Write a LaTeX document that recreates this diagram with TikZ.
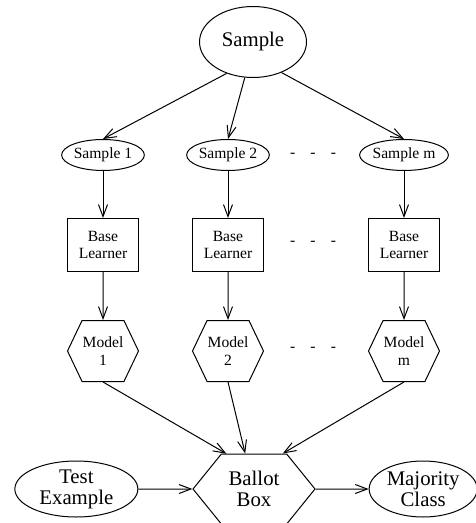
\documentclass[tikz,border=0pt]{standalone}
\usepackage{fontspec}
\setmainfont{Liberation Serif}
\usetikzlibrary{shapes.geometric,shapes.symbols,arrows.meta,positioning}
\tikzset{bagnode/.style={
       draw,
       align=center,
       inner sep=0pt
     },
     bigtext/.style={font=\fontsize{10.4}{10.6}\selectfont},
     smalltext/.style={font=\fontsize{7.8}{8.7}\selectfont},
     sampleset/.style={bagnode, smalltext,
       ellipse,
       minimum width=40pt,
       minimum height=15.5pt
     },
     learner/.style={bagnode, smalltext,
       rectangle,
       minimum width=35.5pt,
       minimum height=26.5pt
     },
     model/.style={bagnode, smalltext,
       signal, signal to=east and west,
       signal pointer angle=129,
       minimum width=35.5pt,
       minimum height=30.5pt
     },
     gap/.style={smalltext, inner sep=0pt}
}

\begin{document}
\begin{tikzpicture}[
    x=0.5pt, y=-0.5pt,
    line width=0.5pt,
    >={Straight Barb[length=6pt,width=4.5pt]},
    node distance=23.5pt and 27pt]
    \useasboundingbox (0,0) rectangle (475,523);

    \node[bagnode, bigtext, ellipse, minimum width=53.5pt, minimum height=35.5pt] (smp) at (253,42) {Sample};

    % bootstrap samples
    \node[sampleset] (s1) at (103,155) {Sample 1};
    \node[sampleset] (s2) at (228,155) {Sample 2};
    \node[sampleset] (sm) at (404,155) {Sample m};
    \node[gap] (dots1) at (313,155) {-\hspace{7.6pt}-\hspace{7.6pt}-};

    \draw[->] (smp.230) -- (s1.north);
    \draw[->] (smp.257) -- (s2.north);
    \draw[->] (smp.313) -- (sm.north);

    % learners
    \node[learner] (b1) [below=of s1] {Base\\Learner} edge [<-] (s1);
    \node[learner] (b2) [below=of s2] {Base\\Learner} edge [<-] (s2);
    \node[learner] (bm) [below=of sm] {Base\\Learner} edge [<-] (sm);
    \node[gap] (dots2) at (313,243) {-\hspace{7.6pt}-\hspace{7.6pt}-};

    % models
    \node[model] (m1) [below=24pt of b1] {Model\\1} edge [<-] (b1);
    \node[model] (m2) [below=24pt of b2] {Model\\2} edge [<-] (b2);
    \node[model] (mm) [below=24pt of bm] {Model\\m} edge [<-] (bm);
    \node[gap] (dots3) at (313,349) {-\hspace{7.6pt}-\hspace{7.6pt}-};

    % voting
    \node[bagnode, bigtext, signal, signal to=east and west, signal pointer angle=102,
          minimum width=61pt, minimum height=35pt] (ballot) at (254,489) {Ballot\\Box};
    \node[bagnode, bigtext, ellipse, minimum width=61.5pt, minimum height=28pt] (test) [left=of ballot] {Test\\Example};
    \node[bagnode, bigtext, ellipse, minimum width=54pt, minimum height=28pt] (major) [right=26.5pt of ballot] {Majority\\Class};

    \draw[->] (m1.south) -- (ballot.128);
    \draw[->] (m2.south) -- (ballot.104);
    \draw[->] (mm.south) -- (ballot.51);
    \draw[->] (test) -- (ballot);
    \draw[->] (ballot) -- (major);
\end{tikzpicture}
\end{document}
